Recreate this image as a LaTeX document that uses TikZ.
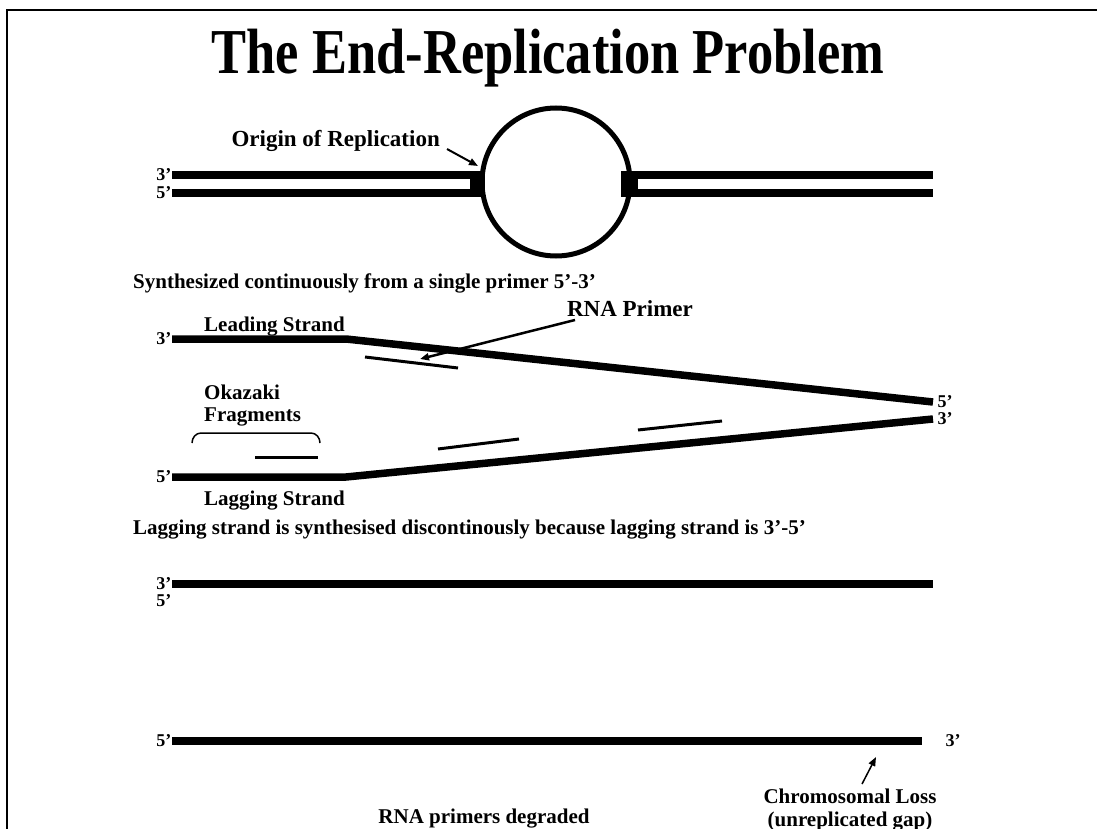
\documentclass[tikz,border=0pt]{standalone}
\usepackage{fontspec}
\setmainfont{Liberation Serif}
\newfontfamily\titlefont[FakeStretch=0.82]{Liberation Serif}
\usetikzlibrary{arrows.meta}
\tikzset{
  strand/.style={line width=7.5pt},
  frag/.style={line width=3pt},
  endlbl/.style={font=\bfseries\fontsize{18}{18}\selectfont, inner sep=0.5pt},
  txt/.style={font=\bfseries\fontsize{21}{24}\selectfont, inner sep=0pt},
  pointer/.style={line width=2pt, -{Triangle[length=9pt,width=7pt]}}
}
\begin{document}
\begin{tikzpicture}[x=1pt, y=-1pt]
    \useasboundingbox (0,0) rectangle (1097,829);
    % frame
    \draw[line width=2pt] (7,829) -- (7,10) -- (1097,10);
    \node[font=\titlefont\bfseries\fontsize{64}{66}\selectfont] (title) at (548,58) {The End-Replication Problem};

    % Bubble at the origin
    \node[endlbl, anchor=east] (t3) at (172,175) {3'};
    \node[endlbl, anchor=east] (t5) at (172,193) {5'};
    \coordinate (ta) at (172,175);
    \coordinate (tb) at (172,193);
    \coordinate (ra) at (933,175);
    \coordinate (rb) at (933,193);
    \draw[strand] (ta) -- (478,175);
    \draw[strand] (tb) -- (478,193);
    \draw[strand] (628,175) -- (ra);
    \draw[strand] (628,193) -- (rb);
    \fill (470,171) rectangle (485,197);
    \fill (621,171) rectangle (638,197);
    \node[draw, circle, line width=5pt, minimum size=148pt, inner sep=0pt] (bubble) at (556,182) {};
    \node[txt, font=\bfseries\fontsize{23}{26}\selectfont, anchor=base east] (ori) at (440,147) {Origin of Replication};
    \coordinate (oritip) at (478,166);
    \draw[pointer] (447,149) -- (oritip);

    % Replication fork
    \node[txt, anchor=base west] (cont) at (133,288) {Synthesized continuously from a single primer 5'-3'};
    \node[endlbl, anchor=east] (l3) at (172,339) {3'};
    \node[endlbl, anchor=east] (g5) at (172,477) {5'};
    \coordinate (lead0) at (172,339);
    \coordinate (lead1) at (346,339);
    \coordinate (lead2) at (933,402);
    \coordinate (lag0) at (172,477);
    \coordinate (lag1) at (346,477);
    \coordinate (lag2) at (933,419);
    \draw[strand] (lead0) -- (lead1) -- (lead2);
    \draw[strand] (lag0) -- (lag1) -- (lag2);
    \node[endlbl, anchor=west] (r5) at ([xshift=4pt]lead2) {5'};
    \node[endlbl, anchor=west] (r3) at ([xshift=4pt]lag2) {3'};
    \node[txt, anchor=base west] (leadlbl) at (204,331) {Leading Strand};
    \node[txt, anchor=base west] (laglbl) at (204,505) {Lagging Strand};
    \node[txt, font=\bfseries\fontsize{23}{26}\selectfont, anchor=base] (rnalbl) at (630,316) {RNA Primer};
    \coordinate (rnatip) at (420,359);
    \draw[pointer, line width=2.5pt] (575,320) -- (rnatip);
    \draw[frag] (365,357) -- (458,368);
    \node[txt, anchor=base west] (oka1) at (204,399) {Okazaki};
    \node[txt, anchor=base west] (oka2) at (204,421) {Fragments};
    \draw[line width=1.5pt] (192,443) to[out=90, in=180] (201,433) -- (311,433) to[out=0, in=90] (320,443);
    \draw[frag] (255,457) -- (318,457);
    \draw[frag] (438,449) -- (519,439);
    \draw[frag] (638,430) -- (722,421);

    % After replication
    \node[txt, anchor=base west] (disc) at (133,534) {Lagging strand is synthesised discontinously because lagging strand is 3'-5'};
    \node[endlbl, anchor=east] (b3) at (172,584) {3'};
    \node[endlbl, anchor=east] (b5) at (172,601) {5'};
    \coordinate (up0) at (172,584);
    \coordinate (up1) at (933,584);
    \draw[strand] (up0) -- (up1);

    \node[endlbl, anchor=east] (e5) at (172,741) {5'};
    \coordinate (lo0) at (172,741);
    \coordinate (lo1) at (922,741);
    \draw[strand] (lo0) -- (lo1);
    \node[endlbl, anchor=west] (e3) at (945,741) {3'};
    \coordinate (gaptip) at (876,757);
    \draw[pointer, line width=1.5pt] (862,784) -- (gaptip);
    \node[txt, anchor=base] (loss1) at (850,803) {Chromosomal Loss};
    \node[txt, anchor=base] (loss2) at (850,826) {(unreplicated gap)};
    \node[txt, anchor=base] (degr) at (484,823) {RNA primers degraded};
  \end{tikzpicture}
\end{document}
